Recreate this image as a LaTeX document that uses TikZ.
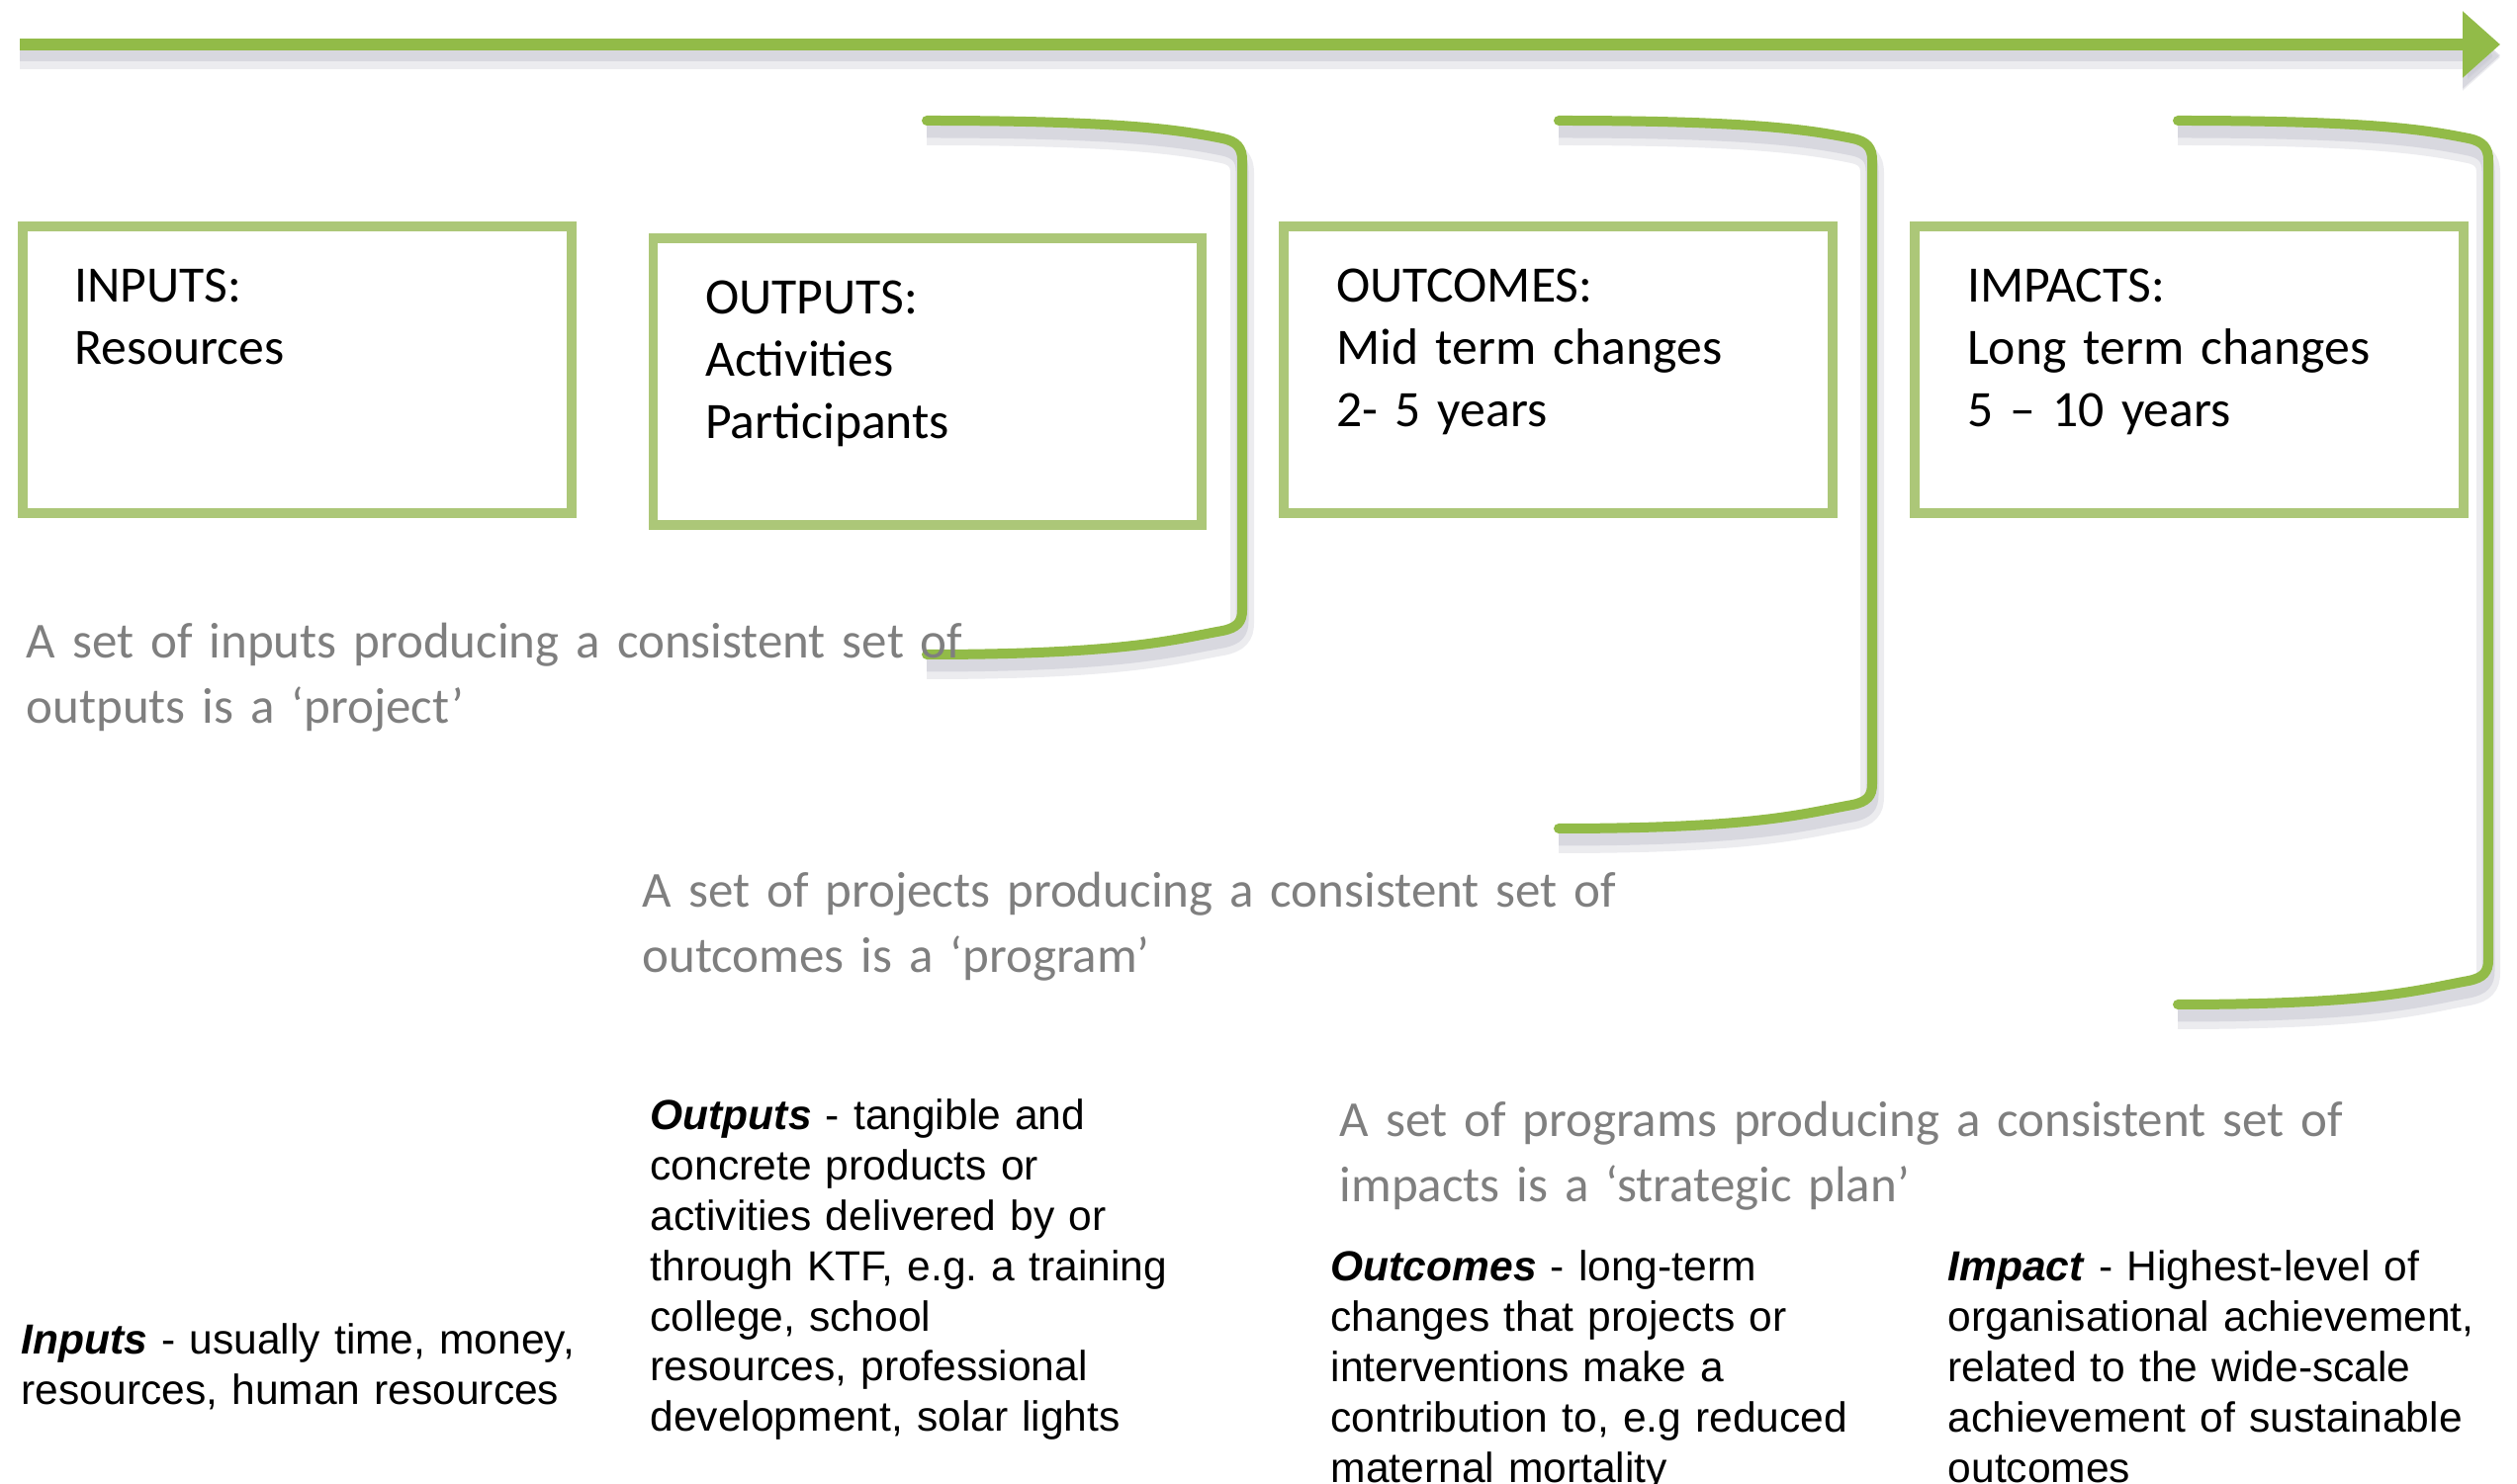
\documentclass[tikz,border=0pt]{standalone}
\usepackage{fontspec}
\setmainfont{Carlito}
\newfontfamily\notefont{Liberation Sans}
\frenchspacing
\usetikzlibrary{arrows.meta,calc,positioning}
\definecolor{lineColor}{RGB}{146,187,72}
\definecolor{boxColor}{RGB}{172,199,120}
\definecolor{captionColor}{RGB}{127,127,127}
\definecolor{shadowColor}{RGB}{200,200,210}
\newcommand{\stagefont}{\fontsize{14.7}{17.9}\selectfont}
\newcommand{\captionfont}{\fontsize{14.5}{18.5}\selectfont}
\tikzset{stagebox/.style={draw=boxColor, line width=1mm, minimum width=55.5mm, minimum height=29mm, inner sep=0pt}}
\tikzset{stagetext/.style={anchor=base west, align=left, text width=60mm, inner sep=0pt, font=\stagefont}}
\tikzset{caption/.style={stagetext, text width=110mm, text=captionColor, font=\captionfont}}
\tikzset{note/.style={anchor=base west, align=left, text width=70mm, inner sep=0pt, font=\notefont\fontsize{12.1}{14.45}\selectfont}}
\tikzset{bracket/.style={draw=lineColor, line width=1mm, line cap=round,
    preaction={draw=shadowColor, opacity=0.35, line width=2.4mm, transform canvas={yshift=-1.3mm}},
    preaction={draw=shadowColor, opacity=0.55, line width=1.3mm, transform canvas={yshift=-1.1mm}}}}
\tikzset{timeline/.style={bracket, line width=1.2mm, line cap=butt, -{Triangle[length=3.8mm, width=6.5mm]}}}

\begin{document}
\begin{tikzpicture}[x=0.1mm, y=-0.1mm, node distance=7.3mm]
\useasboundingbox (0,0) rectangle (2545,1501);
% Nodes
    \node (Inputs) [stagebox] at (300,374) {};
    \node (Outputs) [stagebox, right=of Inputs, yshift=-1.2mm] {};
    \node (Outcomes) [stagebox, right=of Outputs, yshift=1.2mm] {};
    \node (Impacts) [stagebox, right=of Outcomes] {};

    \node (InputsText) [stagetext] at ($(Inputs.north west)+(57,82)$) {INPUTS:\\Resources};
    \node (OutputsText) [stagetext] at ($(Outputs.north west)+(57,82)$) {OUTPUTS:\\Activities\\Participants};
    \node (OutcomesText) [stagetext] at ($(Outcomes.north west)+(57,82)$) {OUTCOMES:\\Mid term changes\\2- 5 years};
    \node (ImpactsText) [stagetext] at ($(Impacts.north west)+(57,82)$) {IMPACTS:\\Long term changes\\5 – 10 years};

% Timeline
    \coordinate (TimeStart) at (20,45);
    \coordinate (TimeEnd) at (2528,45);
    \draw [timeline] (TimeStart) -- (TimeEnd);

% Brackets
    \draw [bracket] (937,122) .. controls (1137,122) and (1196,132) .. (1236,140)
        .. controls (1251,143) and (1256,150) .. (1256,162) -- (1256,617)
        .. controls (1256,629) and (1251,635) .. (1236,638)
        .. controls (1186,647) and (1137,662) .. (937,662);
    \draw [bracket] (1576,122) .. controls (1776,122) and (1833,132) .. (1873,140)
        .. controls (1888,143) and (1893,150) .. (1893,162) -- (1893,793)
        .. controls (1893,805) and (1888,811) .. (1873,814)
        .. controls (1823,823) and (1776,838) .. (1576,838);
    \draw [bracket] (2202,122) .. controls (2402,122) and (2456,132) .. (2496,140)
        .. controls (2511,143) and (2516,150) .. (2516,162) -- (2516,971)
        .. controls (2516,983) and (2511,989) .. (2496,992)
        .. controls (2446,1001) and (2402,1016) .. (2202,1016);

% Captions
    \node (ProjectCaption) [caption] at (26,666) {A set of inputs producing a consistent set of\\outputs is a ‘project’};
    \node (ProgramCaption) [caption] at (649,918) {A set of projects producing a consistent set of\\outcomes is a ‘program’};
    \node (PlanCaption) [caption] at (1354,1150) {A set of programs producing a consistent set of\\impacts is a ‘strategic plan’};

% Notes
    \node (InputsNote) [note] at (21,1370) {\textbf{\textit{Inputs}} - usually time, money,\\resources, human resources};
    \node (OutputsNote) [note] at (657,1143) {\textbf{\textit{Outputs}} - tangible and\\concrete products or\\activities delivered by or\\through KTF, e.g. a training\\college, school\\resources, professional\\development, solar lights};
    \node (OutcomesNote) [note] at (1345,1296) {\textbf{\textit{Outcomes}} - long-term\\changes that projects or\\interventions make a\\contribution to, e.g reduced\\maternal mortality};
    \node (ImpactNote) [note] at (1969,1296) {\textbf{\textit{Impact}} - Highest-level of\\organisational achievement,\\related to the wide-scale\\achievement of sustainable\\outcomes};
\end{tikzpicture}
\end{document}
